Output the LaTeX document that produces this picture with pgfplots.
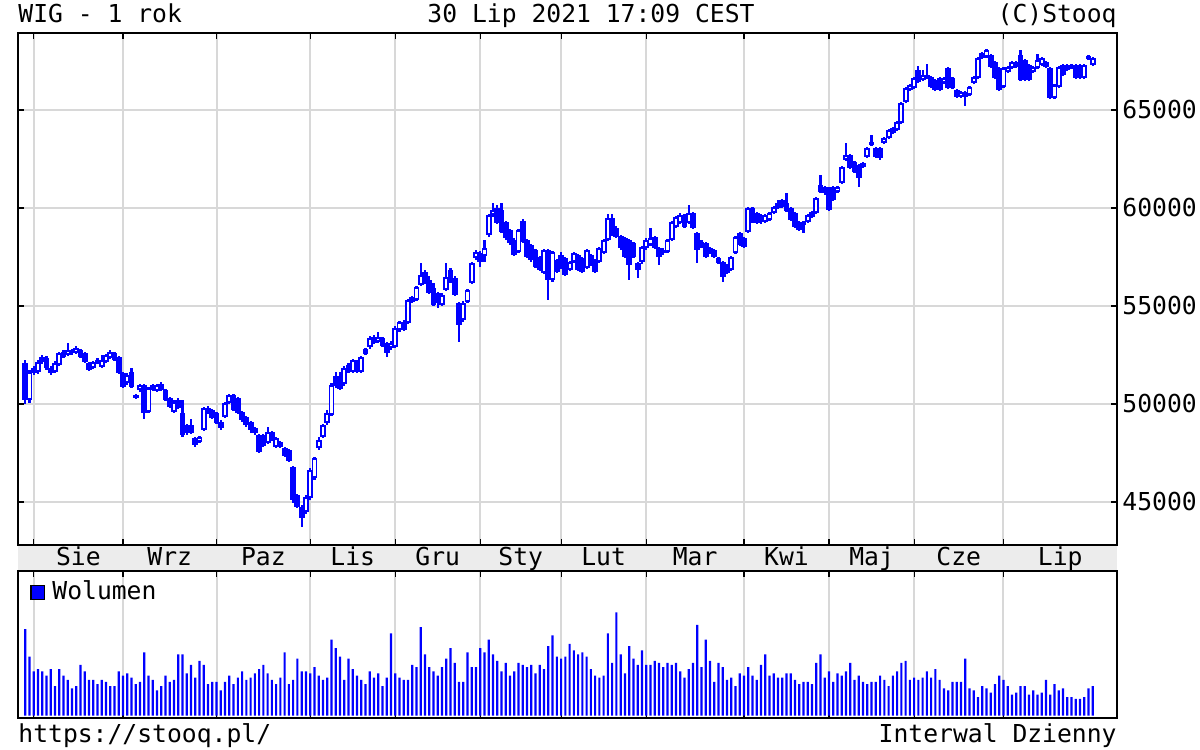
\documentclass[border=0pt]{standalone}
\usepackage{fontspec}
\setmainfont{DejaVu Sans Mono}
\usepackage{pgfplots}
\usepackage{pgfplotstable}
\pgfplotsset{compat=1.18}
\definecolor{gridgray}{RGB}{216,216,216}
\definecolor{bandgray}{RGB}{236,236,236}
\pgfplotstableread{
i o h l c
-2 52097 52250 50006 50210
-1 50210 51740 50057 51638
0 51842 51944 51485 51587
1 51638 52250 51536 52148
2 52403 52505 52046 52148
3 52352 52454 51740 51842
4 51842 51944 51485 51587
5 51638 52199 51587 52097
6 51995 52658 51944 52607
7 52658 52760 52352 52403
8 52505 53117 52454 52760
9 52760 52811 52505 52607
10 52607 52964 52556 52862
11 52760 52811 52352 52403
12 52607 52658 52097 52148
13 52097 52148 51689 51740
14 51842 52199 51791 52148
15 52250 52352 52046 52097
16 51893 52505 51842 52250
17 52148 52556 52097 52505
18 52352 52760 52301 52658
19 52607 52658 52199 52250
20 52403 52454 51536 51587
21 51587 51638 50822 50873
22 51077 51587 50975 51485
23 51638 51842 50822 50873
24 50465 50516 50261 50312
25 50720 51026 50618 50975
26 50975 51026 49241 49547
27 49598 50873 49547 50822
28 50975 51026 50669 50720
29 50669 51026 50618 50975
30 51026 51128 50669 50720
31 50720 50771 50159 50210
32 50312 50363 49802 49853
33 49598 50210 49547 50108
34 50210 50312 49751 49802
35 49547 50210 48323 48425
36 48935 48986 48425 48527
37 48935 49241 48476 48527
38 48272 48323 47813 47915
39 48068 48374 48017 48323
40 48680 49853 48629 49802
41 49802 49904 49496 49547
42 49700 49751 49241 49292
43 49547 49598 48986 49037
44 49088 49190 48680 48782
45 49343 50108 49292 50057
46 50057 50516 50006 50465
47 50465 50516 49649 49700
48 50312 50363 49496 49547
49 49598 49649 49088 49190
50 49343 49394 48833 48935
51 49088 49139 48527 48680
52 48782 48833 48425 48527
53 48425 48476 47507 47558
54 48425 48476 47813 47864
55 48017 48833 47966 48578
56 48578 48629 48119 48170
57 47813 48323 47762 48272
58 48068 48119 47762 47813
59 47762 47813 47303 47354
60 47660 47711 47048 47099
61 46793 46844 44957 45110
62 45365 45416 44702 44753
63 44753 44855 43733 44192
64 44498 45365 44396 45263
65 45212 46742 45110 46640
66 46232 47303 46130 47252
67 47762 48323 47660 48170
68 48323 48986 48272 48935
69 49037 49700 48935 49547
70 49445 51077 49394 50975
71 51434 51638 50822 50924
72 51230 51638 50720 50771
73 51026 51944 50924 51842
74 51995 52097 51587 51638
75 51638 52301 51587 52250
76 52148 52250 51587 51689
77 51638 52454 51587 52403
78 52811 52862 52505 52556
79 52913 53474 52811 53372
80 53423 53525 53066 53117
81 53168 53678 53117 53423
82 53372 53423 52913 52964
83 53117 53168 52403 52607
84 52862 53219 52760 53117
85 52913 53984 52862 53882
86 53780 54239 53678 54188
87 54188 54290 53729 53780
88 54137 55361 54086 55310
89 55463 55514 55157 55208
90 55310 56024 55259 55973
91 56075 57197 56024 56585
92 56738 56840 56126 56177
93 56330 56534 55616 55667
94 55922 56177 55004 55055
95 55667 55718 54902 55157
96 55055 55667 55004 55565
97 55820 57197 55769 56483
98 56840 56942 56177 56330
99 56432 56534 55514 55565
100 55157 55208 53168 54035
101 54290 55259 54188 55157
102 55208 55871 55157 55820
103 56177 57248 56126 57197
104 57452 57860 57350 57758
105 57707 57809 56993 57248
106 57554 58370 57248 57962
107 58625 59696 58523 59645
108 59645 60257 59543 59900
109 60002 60155 59186 59237
110 59900 60257 58727 58778
111 59288 59339 58370 58472
112 58880 58931 58115 58217
113 58370 58472 57554 57605
114 57758 58931 57707 58880
115 59339 59441 58217 58268
116 58370 58421 57452 57503
117 58115 58166 57248 57350
118 57860 57911 56942 56993
119 57503 57554 56789 56840
120 56687 57911 56636 57860
121 57860 57911 55310 56330
122 56330 57809 56228 57758
123 57350 57401 56687 56738
124 57605 57758 56891 56942
125 57452 57503 56534 56585
126 56840 57299 56789 57248
127 57248 57758 57197 57707
128 57605 57656 56789 56840
129 57452 57503 56687 56738
130 56942 57911 56891 57860
131 57605 57656 57044 57095
132 57350 57401 56687 56738
133 57248 58013 57197 57962
134 57707 58421 57656 58370
135 58370 59696 58319 59492
136 59492 59696 58574 58625
137 58982 59084 58472 58523
138 58574 58625 57860 57962
139 58472 58523 57452 57503
140 58370 58421 56330 57095
141 58217 58268 57452 57503
142 57197 57248 56432 56840
143 57248 58064 57146 58013
144 57962 58472 57860 58370
145 58115 58982 58064 58472
146 58523 58574 57911 57962
147 57962 58013 57095 57503
148 57860 57962 57605 57707
149 57758 58421 57707 58370
150 58370 59339 58319 59288
151 59033 59594 58982 59543
152 59237 59747 59186 59645
153 59645 59696 58982 59033
154 59237 60155 59186 59747
155 59747 59798 58931 58982
156 58727 58778 57197 57860
157 58268 58370 57962 58013
158 58217 58268 57452 57503
159 57962 58013 57656 57707
160 57860 57911 57452 57503
161 57452 57503 57146 57197
162 57248 57299 56228 56483
163 57095 57146 56636 56687
164 56840 57554 56789 57503
165 57707 58574 57656 58523
166 58727 58778 58064 58115
167 58472 58523 57962 58013
168 58778 60053 58727 60002
169 60002 60053 59237 59288
170 59747 59798 59186 59237
171 59645 59696 59186 59288
172 59288 59696 59237 59645
173 59390 59798 59339 59747
174 59747 60104 59696 60053
175 60257 60410 59951 60002
176 60410 60461 60002 60053
177 60257 60767 59798 59849
178 60002 60053 59339 59390
179 59747 59798 58982 59033
180 59288 59339 58829 58880
181 59288 59339 58727 59135
182 59288 59696 59237 59645
183 59798 59849 59492 59543
184 59747 60563 59696 60512
185 61175 61685 60767 60818
186 61073 61124 60665 60767
187 61022 61073 59849 59900
188 61073 61124 60359 60410
189 60818 61124 60767 61073
190 61277 62144 61226 62093
191 62450 63317 62399 62705
192 62705 62756 61991 62042
193 62348 62399 61787 61838
194 62195 62246 61073 61532
195 62297 62348 62042 62093
196 62603 63113 62552 63062
197 63368 63725 63164 63215
198 63062 63113 62552 62603
199 63062 63113 62450 62552
200 63317 63623 63266 63572
201 63572 64031 63521 63980
202 64082 64133 63776 63827
203 63980 64439 63929 64388
204 64337 65408 64286 65357
205 65408 66173 65357 66122
206 66020 66326 65969 66275
207 66122 66683 66071 66632
208 67040 67244 66377 66428
209 66530 67040 66479 66785
210 66632 67346 66581 66785
211 66683 66734 66122 66173
212 66530 66581 65969 66020
213 66632 66683 65969 66020
214 66377 66683 66326 66632
215 67142 67193 66071 66122
216 66632 66683 66071 66122
217 66020 66071 65612 65663
218 65663 65969 65612 65918
219 65918 65969 65204 65663
220 65765 66224 65714 66173
221 66377 66734 66326 66683
222 66632 67703 66581 67652
223 67907 67958 67601 67652
224 67703 68111 67652 68060
225 67805 67856 67142 67193
226 67448 67499 66581 66632
227 67142 67193 65969 66020
228 66173 67193 66122 67142
229 66938 67244 66887 67193
230 67142 67499 67091 67448
231 67448 67499 67142 67193
232 67805 68060 66479 66530
233 67550 67601 66479 66530
234 67295 67346 66479 66530
235 66938 67244 66887 67193
236 67142 67856 67091 67550
237 67295 67703 67244 67652
238 67448 67499 67142 67193
239 67142 67193 65561 65612
240 65612 66326 65561 66275
241 66173 67244 66122 67193
242 67295 67346 66734 66785
243 67295 67346 66989 67040
244 67142 67346 67091 67295
245 67295 67346 66581 66632
246 67295 67346 66581 66632
247 66632 67346 66581 67295
248 67754 67805 67550 67601
249 67295 67703 67244 67652
}\ohlc
\pgfplotstableread{
i v
-2 264
-1 180
0 135
1 142
2 135
3 122
4 142
5 90
6 142
7 122
8 109
9 83
10 90
11 155
12 135
13 109
14 109
15 96
16 109
17 103
18 90
19 90
20 135
21 122
22 129
23 116
24 96
25 103
26 193
27 122
28 109
29 77
30 90
31 122
32 103
33 109
34 187
35 187
36 129
37 155
38 116
39 167
40 155
41 96
42 103
43 103
44 77
45 103
46 122
47 96
48 116
49 135
50 109
51 116
52 129
53 142
54 155
55 129
56 109
57 96
58 116
59 193
60 96
61 109
62 174
63 135
64 135
65 129
66 148
67 122
68 109
69 116
70 232
71 206
72 180
73 109
74 174
75 142
76 122
77 109
78 96
79 135
80 116
81 129
82 90
83 116
84 251
85 129
86 116
87 109
88 109
89 155
90 148
91 270
92 187
93 148
94 135
95 122
96 148
97 174
98 206
99 161
100 103
101 103
102 193
103 148
104 148
105 206
106 193
107 232
108 187
109 167
110 135
111 161
112 122
113 135
114 161
115 155
116 148
117 155
118 129
119 155
120 142
121 212
122 245
123 180
124 174
125 180
126 219
127 199
128 187
129 193
130 180
131 142
132 122
133 116
134 122
135 251
136 161
137 315
138 187
139 129
140 212
141 174
142 155
143 199
144 155
145 155
146 167
147 161
148 148
149 161
150 155
151 161
152 135
153 116
154 142
155 161
156 277
157 148
158 232
159 167
160 103
161 161
162 148
163 109
164 116
165 90
166 129
167 122
168 148
169 122
170 109
171 155
172 187
173 122
174 129
175 116
176 116
177 129
178 129
179 109
180 96
181 103
182 103
183 96
184 161
185 187
186 116
187 135
188 103
189 129
190 122
191 135
192 161
193 109
194 122
195 103
196 96
197 103
198 103
199 122
200 109
201 90
202 122
203 135
204 161
205 167
206 109
207 116
208 109
209 116
210 135
211 116
212 142
213 109
214 83
215 77
216 103
217 103
218 103
219 174
220 83
221 77
222 57
223 90
224 83
225 70
226 96
227 122
228 109
229 90
230 64
231 70
232 90
233 90
234 64
235 77
236 64
237 70
238 109
239 64
240 96
241 77
242 83
243 57
244 57
245 51
246 51
247 57
248 83
249 90
}\vol
\begin{document}
\fontsize{12.35pt}{15pt}\selectfont
\begin{tikzpicture}[x=1pt,y=1pt]
\path[use as bounding box] (0,0) rectangle (600,375);
\fill[bandgray] (9,89) rectangle (558.5,102.5);
\begin{axis}[
  at={(9pt,102.5pt)}, anchor=south west,
  scale only axis, width=549.5pt, height=255.75pt,
  xmin=-3.69, xmax=254.7, ymin=42806, ymax=68903,
  axis line style={line width=1pt},
  xtick={0,21,43,65,85,105,124,144,167,187,207,228},
  xticklabels={},
  ytick={45000,50000,55000,60000,65000},
  scaled y ticks=false,
  tick align=inside, xtick pos=both, ytick pos=both,
  major tick length=3pt,
  tick style={black, line width=0.6pt},
  grid=major, major grid style={gridgray, line width=1pt},
  yticklabel pos=right,
  yticklabel style={anchor=west, inner sep=0pt, xshift=2.5pt,
    /pgf/number format/1000 sep={}, /pgf/number format/assume math mode=true},
  clip=false,
]
% wicks
\addplot[draw=none, mark=none, forget plot,
  error bars/.cd, y dir=plus, y explicit, error mark=none,
  error bar style={draw=blue, line width=1.1pt}]
  table[x=i, y=l, y error plus expr=\thisrow{h}-\thisrow{l}] {\ohlc};
% down bodies
\addplot[draw=none, mark=none, forget plot,
  restrict expr to domain={\thisrow{o}-\thisrow{c}}{0:100000},
  error bars/.cd, y dir=plus, y explicit, error mark=none,
  error bar style={draw=blue, line width=2.9pt}]
  table[x=i, y=c, y error plus expr=\thisrow{o}-\thisrow{c}] {\ohlc};
% up bodies (outline)
\addplot[draw=none, mark=none, forget plot,
  restrict expr to domain={\thisrow{c}-\thisrow{o}}{1:100000},
  error bars/.cd, y dir=plus, y explicit, error mark=none,
  error bar style={draw=blue, line width=2.9pt}]
  table[x=i, y=o, y error plus expr=\thisrow{c}-\thisrow{o}] {\ohlc};
% up bodies (hollow inside)
\addplot[draw=none, mark=none, forget plot,
  restrict expr to domain={\thisrow{c}-\thisrow{o}}{200:100000},
  error bars/.cd, y dir=plus, y explicit, error mark=none,
  error bar style={draw=white, line width=1.1pt}]
  table[x=i, y expr=\thisrow{o}+85, y error plus expr=\thisrow{c}-\thisrow{o}-170] {\ohlc};
\foreach \m/\lab in {10.5/Sie,32/Wrz,54/Paz,75/Lis,95/Gru,114.5/Sty,134/Lut,155.5/Mar,177/Kwi,197/Maj,217.5/Cze,241.35/Lip}{
  \edef\tmp{\noexpand\node[anchor=base, inner sep=0pt, yshift=-10.5pt] at (axis cs:\m,42806) {\lab};}
  \tmp
}
\end{axis}
\begin{axis}[
  at={(9pt,16pt)}, anchor=south west,
  scale only axis, width=549.5pt, height=73.5pt,
  xmin=-3.69, xmax=254.7, ymin=-7, ymax=441,
  axis line style={line width=1pt},
  xtick={0,21,43,65,85,105,124,144,167,187,207,228},
  xticklabels={}, ytick=\empty,
  tick align=inside, xtick pos=both,
  major tick length=3pt,
  tick style={black, line width=0.6pt},
  xmajorgrids, major grid style={gridgray, line width=1pt},
]
\addplot[ybar, bar width=1.1pt, fill=blue, draw=none] table[x=i, y=v] {\vol};
\end{axis}
\fill[blue, draw=black, line width=0.6pt] (15.5,75.3) rectangle (22.2,82.2);
\node[anchor=base west, inner sep=0pt] at (26,75) {Wolumen};
\node[anchor=base west, inner sep=0pt] at (9,363.5) {WIG - 1 rok};
\node[anchor=base, inner sep=0pt] at (295.5,363.5) {30 Lip 2021 17:09 CEST};
\node[anchor=base east, inner sep=0pt] at (558.5,363.5) {(C)Stooq};
\node[anchor=base west, inner sep=0pt] at (9,4) {https://stooq.pl/};
\node[anchor=base east, inner sep=0pt] at (558.5,4) {Interwal Dzienny};
\end{tikzpicture}
\end{document}
